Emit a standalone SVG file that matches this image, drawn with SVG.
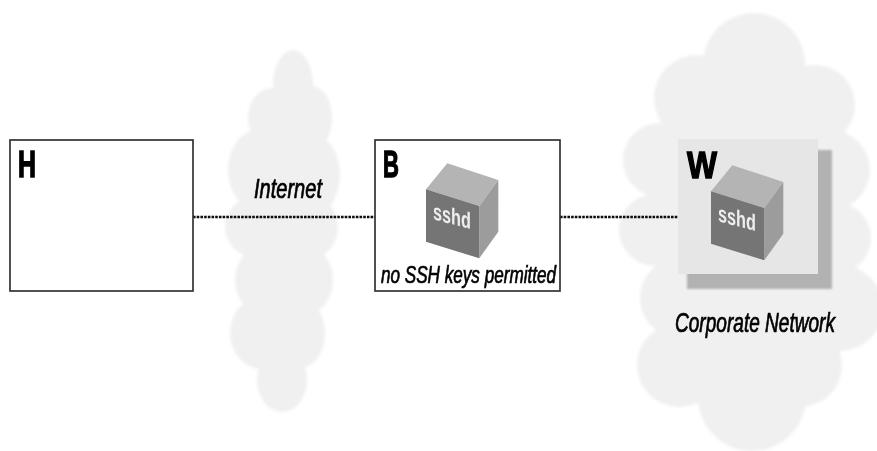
<svg xmlns="http://www.w3.org/2000/svg" width="877" height="451" viewBox="0 0 877 451">
<style>
.cloud{fill:#f0f0f0}
.box{fill:#fff;stroke:#333;stroke-width:1.7}
.dot{fill:none;stroke:#111;stroke-width:2.6;stroke-dasharray:2.6 1.1}
.lbl{font-family:"Liberation Sans",Arial,sans-serif;font-style:italic;fill:#000;stroke:#000;stroke-width:.55}
.big{font-family:"Liberation Sans",Arial,sans-serif;font-weight:bold;fill:#000;stroke:#000;stroke-width:1}
.ss{font-family:"Liberation Sans",Arial,sans-serif;font-weight:bold;fill:#eee;font-size:20px}
.t{fill:#b4b4b4}.r{fill:#9c9c9c}.f{fill:#747474}
</style>
<defs>
<filter id="soft" x="-5%" y="-5%" width="110%" height="110%"><feGaussianBlur stdDeviation="1.5"/></filter>
<filter id="shadow" x="-10%" y="-10%" width="120%" height="120%"><feGaussianBlur stdDeviation="1.2"/></filter>
<filter id="tb" x="-10%" y="-20%" width="120%" height="140%"><feGaussianBlur stdDeviation="0.5"/></filter>
<filter id="bb" x="-40%" y="-40%" width="180%" height="180%"><feGaussianBlur stdDeviation="0.45"/></filter>
<filter id="line" filterUnits="userSpaceOnUse" x="0" y="0" width="877" height="451"><feGaussianBlur stdDeviation="0.4"/></filter>
<g id="cube" filter="url(#bb)">
<polygon class="t" points="447.3,163.3 498.3,180 479.3,206 426,189.3"/>
<polygon class="r" points="498.3,180 498.3,231.7 479.3,258.3 479.3,206"/>
<polygon class="f" points="426,189.3 479.3,206 479.3,258.3 426,241.7"/>
<text class="ss" transform="translate(433,219) skewY(15) scale(1,1.15)" textLength="38" lengthAdjust="spacingAndGlyphs">sshd</text>
</g>
</defs>
<rect width="877" height="451" fill="#fff"/>
<g id="internet-cloud" class="cloud" filter="url(#soft)">
<ellipse cx="293" cy="85" rx="20" ry="35"/>
<ellipse cx="272" cy="118" rx="24" ry="30"/>
<ellipse cx="312" cy="118" rx="20" ry="32"/>
<ellipse cx="258" cy="170" rx="30" ry="40"/>
<ellipse cx="310" cy="175" rx="30" ry="42"/>
<ellipse cx="255" cy="227" rx="30" ry="30"/>
<ellipse cx="308" cy="227" rx="30" ry="32"/>
<ellipse cx="265" cy="280" rx="30" ry="35"/>
<ellipse cx="305" cy="280" rx="28" ry="35"/>
<ellipse cx="262" cy="333" rx="32" ry="36"/>
<ellipse cx="298" cy="333" rx="27" ry="36"/>
<ellipse cx="282" cy="380" rx="25" ry="32"/>
<rect x="262" y="110" width="55" height="250"/>
</g>
<g id="corporate-cloud" class="cloud" filter="url(#soft)">
<circle cx="754" cy="64" r="51"/>
<circle cx="697" cy="98" r="43"/>
<circle cx="815" cy="105" r="40"/>
<circle cx="660" cy="160" r="37"/>
<circle cx="830" cy="170" r="40"/>
<circle cx="655" cy="230" r="36"/>
<circle cx="835" cy="238" r="36"/>
<circle cx="680" cy="298" r="40"/>
<circle cx="840" cy="308" r="43"/>
<circle cx="679" cy="365" r="42"/>
<circle cx="800" cy="365" r="42"/>
<circle cx="752" cy="397" r="54"/>
<rect x="670" y="90" width="165" height="300"/>
</g>
<g id="connectors" filter="url(#line)">
<line class="dot" x1="193" y1="217" x2="375" y2="217"/>
<line class="dot" x1="560" y1="217" x2="678" y2="217"/>
</g>
<g id="node-h">
<rect class="box" x="10" y="140" width="183" height="151" filter="url(#line)"/>
<text class="big" transform="translate(18,177) scale(1,1.37)" font-size="27" textLength="18" lengthAdjust="spacingAndGlyphs" filter="url(#bb)">H</text>
</g>
<g id="node-b">
<rect class="box" x="375" y="140" width="185" height="151" filter="url(#line)"/>
<text class="big" transform="translate(383,177) scale(1,1.37)" font-size="27" textLength="16" lengthAdjust="spacingAndGlyphs" filter="url(#bb)">B</text>
<use href="#cube"/>
<text class="lbl" transform="translate(381,283) scale(1,1.28)" font-size="18" textLength="175" lengthAdjust="spacingAndGlyphs" filter="url(#tb)">no SSH keys permitted</text>
</g>
<g id="node-w">
<rect x="687" y="150" width="145" height="139" fill="#b2b2b2" filter="url(#shadow)"/>
<rect x="678" y="139" width="140" height="135" fill="#e6e6e6"/>
<text class="big" transform="translate(687,178) scale(1,1.37)" font-size="27" textLength="30" lengthAdjust="spacingAndGlyphs" filter="url(#bb)">W</text>
<use href="#cube" x="285" y="2"/>
</g>
<text id="label-internet" class="lbl" transform="translate(254,198) scale(1,1.35)" font-size="20" textLength="68" lengthAdjust="spacingAndGlyphs" filter="url(#tb)">Internet</text>
<text id="label-corporate" class="lbl" transform="translate(675,332) scale(1,1.35)" font-size="20" textLength="160" lengthAdjust="spacingAndGlyphs" filter="url(#tb)">Corporate Network</text>
</svg>
